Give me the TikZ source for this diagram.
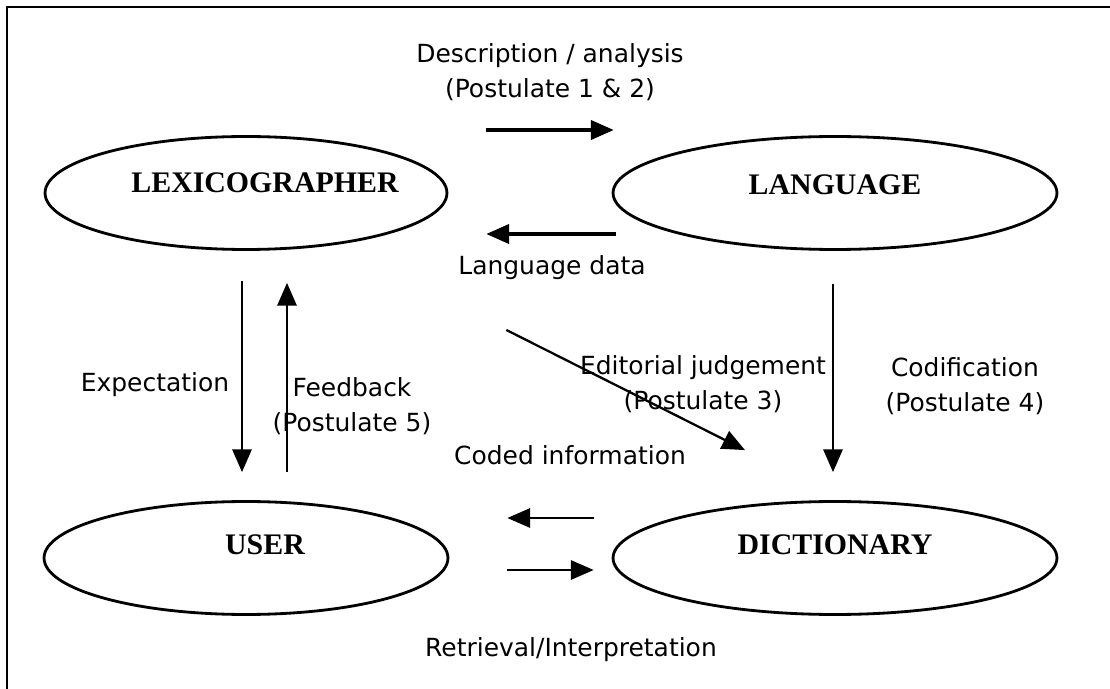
\documentclass[tikz,border=0pt]{standalone}
\usepackage{fontspec}
\setmainfont{Liberation Serif}
\setsansfont{DejaVu Sans}
\usetikzlibrary{calc,positioning}
\usetikzlibrary{arrows.meta,shapes.geometric}
\tikzstyle{party} = [draw, ellipse, inner sep=0pt, line width=1.6pt, minimum height=2.26cm]
\tikzstyle{partyname} = [font=\fontsize{17}{19}\selectfont\bfseries]
\tikzstyle{lbl} = [font=\sffamily\fontsize{14.2}{20}\selectfont, align=center]
\tikzstyle{flow} = [-{Triangle[length=13pt,width=11pt]}, line width=1.3pt]
\tikzstyle{bigflow} = [flow, line width=1.8pt]

\begin{document}
\begin{tikzpicture}[x=0.02cm, y=-0.02cm]
\useasboundingbox (0,0) rectangle (1110,689);
\draw [line width=1.2pt] (7,689) -- (7,7) -- (1110,7);

\node (lex) at (246,193) [party, minimum width=8.04cm] {};
\node (lexname) at (lex) [xshift=+0.38cm, yshift=+0.2cm] [partyname] {LEXICOGRAPHER};

\node (lang) at (835,193) [party, minimum width=8.88cm] {};
\node (langname) at (lang) [yshift=+0.16cm] [partyname] {LANGUAGE};

\node (user) at (246,558) [party, minimum width=8.08cm] {};
\node (username) at (user) [xshift=+0.38cm, yshift=+0.26cm] [partyname] {USER};

\node (dict) at (835,558) [party, minimum width=8.88cm] {};
\node (dictname) at (dict) [yshift=+0.26cm] [partyname] {DICTIONARY};

\node (desc) at (550,72) [lbl] {Description / analysis\\(Postulate 1 \& 2)};
\node (data) at (552,268) [lbl] {Language data};
\node (expect) at (155,385) [lbl] {Expectation};
\node (feedback) at (352,406) [lbl] {Feedback\\(Postulate 5)};
\node (editorial) at (703,384) [lbl] {Editorial judgement\\(Postulate 3)};
\node (coded) at (570,455) [lbl] {Coded information};
\node (codif) at (965,386) [lbl] {Codification\\(Postulate 4)};
\node (retrieval) at (571,650) [lbl] {Retrieval/Interpretation};

\draw [bigflow] ($(lex.east)+(38,-63)$) -- ($(lang.west)+(2,-63)$);
\draw [bigflow] ($(lang.west)+(4,41)$) -- ($(lex.east)+(38,41)$);

\draw [flow] ($(lex.south)+(-4,30)$) -- ($(user.north)+(-4,-28)$);
\draw [flow] ($(user.north)+(41,-28)$) -- ($(lex.south)+(41,32)$);

\draw [flow] ($(lex.east)+(58,137)$) -- ($(dict.north)+(-90,-50)$);
\draw [flow] ($(lang.south)+(-2,33)$) -- ($(dict.north)+(-2,-28)$);

\draw [flow] ($(dict.west)+(-18,-40)$) -- ($(user.east)+(58,-40)$);
\draw [flow] ($(user.east)+(58,12)$) -- ($(dict.west)+(-18,12)$);
\end{tikzpicture}
\end{document}
